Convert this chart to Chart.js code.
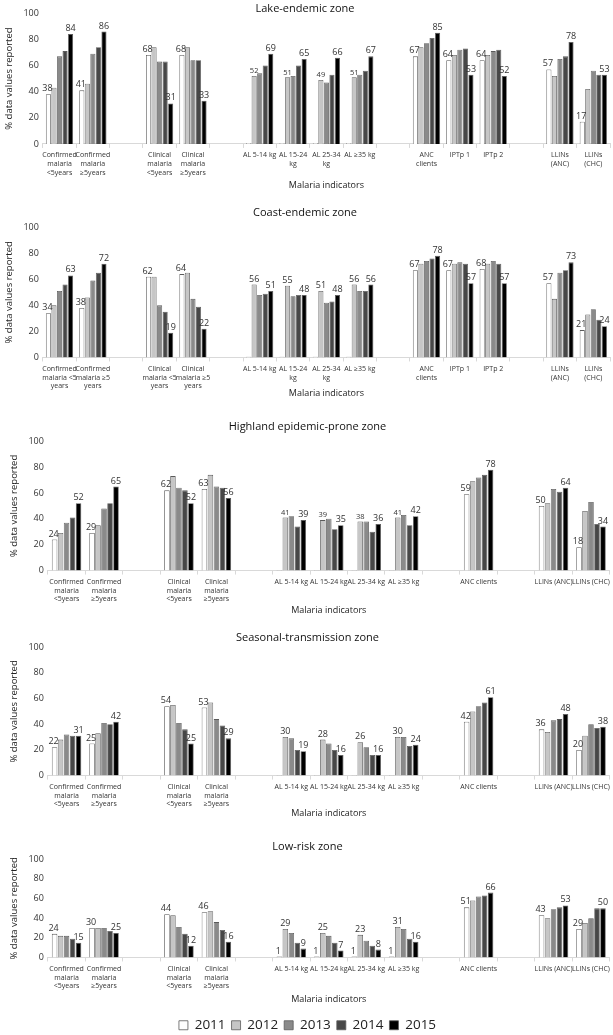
<!DOCTYPE html>
<html>
<head>
<meta charset="utf-8">
<script src="https://cdn.jsdelivr.net/npm/chart.js@4.4.0/dist/chart.umd.min.js"></script>
<style>
  body { margin: 0; background: #fff; width: 613px; height: 1035px; position: relative; overflow: hidden; }
  canvas { position: absolute; left: 0; }
</style>
</head>
<body>
<canvas id="c0"></canvas>
<canvas id="c1"></canvas>
<canvas id="c2"></canvas>
<canvas id="c3"></canvas>
<canvas id="c4"></canvas>
<script>
// years / legend
const years = ["2011", "2012", "2013", "2014", "2015"];

// indicator names (zones with IPTp data)
const catsIPTp = [
  ["Confirmed", "malaria", "<5years"], ["Confirmed", "malaria", "≥5years"],
  ["Clinical", "malaria", "<5years"], ["Clinical", "malaria", "≥5years"],
  "AL 5-14 kg", ["AL 15-24", "kg"], ["AL 25-34", "kg"], "AL ≥35 kg",
  ["ANC", "clients"], "IPTp 1", "IPTp 2", ["LLINs", "(ANC)"], ["LLINs", "(CHC)"]
];
const catsCoast = [
  ["Confirmed", "malaria <5", "years"], ["Confirmed", "malaria ≥5", "years"],
  ["Clinical", "malaria <5", "years"], ["Clinical", "malaria ≥5", "years"],
  "AL 5-14 kg", ["AL 15-24", "kg"], ["AL 25-34", "kg"], "AL ≥35 kg",
  ["ANC", "clients"], "IPTp 1", "IPTp 2", ["LLINs", "(ANC)"], ["LLINs", "(CHC)"]
];
const catsOther = [
  ["Confirmed", "malaria", "<5years"], ["Confirmed", "malaria", "≥5years"],
  ["Clinical", "malaria", "<5years"], ["Clinical", "malaria", "≥5years"],
  "AL 5-14 kg", "AL 15-24 kg", "AL 25-34 kg", "AL ≥35 kg",
  "ANC clients", "LLINs (ANC)", "LLINs (CHC)"
];
// how many indicators sit together before a gap
const groupsIPTp = [2, 2, 4, 3, 2];
const groupsOther = [2, 2, 4, 1, 2];

// Lake-endemic zone
const lake2011 = [38, 41, 68, 68, 0.5, 0.5, 0.5, 0.5, 67, 64, 64, 57, 17];
const lake2012 = [43, 46, 74, 74, 52, 51, 49, 51, 74, 68, 68, 52, 42];
const lake2013 = [67, 69, 63, 64, 54, 52, 47, 53, 77, 72, 71, 65, 56];
const lake2014 = [71, 74, 63, 64, 60, 60, 53, 56, 81, 73, 72, 67, 53];
const lake2015 = [84, 86, 31, 33, 69, 65, 66, 67, 85, 53, 52, 78, 53];

// Coast-endemic zone
const coast2011 = [34, 38, 62, 64, 0.5, 0.5, 0.5, 0.5, 67, 67, 68, 57, 21];
const coast2012 = [40, 46, 62, 65, 56, 55, 51, 56, 72, 72, 72, 45, 33];
const coast2013 = [51, 59, 40, 45, 48, 47, 42, 51, 74, 73, 74, 65, 37];
const coast2014 = [56, 65, 35, 39, 49, 48, 43, 51, 76, 72, 72, 67, 29];
const coast2015 = [63, 72, 19, 22, 51, 48, 48, 56, 78, 57, 57, 73, 24];

// Highland epidemic-prone zone
const high2011 = [24, 29, 62, 63, 0.5, 0.5, 0.5, 0.5, 59, 50, 18];
const high2012 = [29, 35, 73, 74, 41, 39, 38, 41, 69, 52, 46];
const high2013 = [37, 48, 64, 65, 42, 40, 38, 43, 72, 63, 53];
const high2014 = [41, 52, 62, 64, 34, 32, 30, 35, 74, 61, 36];
const high2015 = [52, 65, 52, 56, 39, 35, 36, 42, 78, 64, 34];

// Seasonal-transmission zone
const seas2011 = [22, 25, 54, 53, 0.5, 0.5, 0.5, 0.5, 42, 36, 20];
const seas2012 = [28, 33, 55, 57, 30, 28, 26, 30, 50, 34, 31];
const seas2013 = [32, 41, 41, 44, 29, 25, 22, 30, 54, 43, 40];
const seas2014 = [31, 40, 36, 39, 20, 20, 16, 23, 57, 44, 37];
const seas2015 = [31, 42, 25, 29, 19, 16, 16, 24, 61, 48, 38];

// Low-risk zone
const low2011 = [24, 30, 44, 46, 1, 1, 1, 1, 51, 43, 29];
const low2012 = [22, 30, 43, 47, 29, 25, 23, 31, 58, 40, 35];
const low2013 = [22, 30, 31, 36, 25, 22, 17, 29, 62, 49, 40];
const low2014 = [19, 27, 24, 28, 15, 15, 12, 19, 63, 51, 50];
const low2015 = [15, 25, 12, 16, 9, 7, 8, 16, 66, 53, 50];

const fills = ["#ffffff", "#c6c6c6", "#8a8a8a", "#474747", "#000000"];
const FONT = "'Open Sans', sans-serif";

// put an empty slot between indicator groups
function withGaps(arr, groups, blank) {
  const out = [];
  let i = 0;
  groups.forEach((n, g) => {
    if (g > 0) out.push(blank);
    for (let k = 0; k < n; k++) out.push(arr[i++]);
  });
  return out;
}

// numbers over the 2011 / 2015 bars (and 2012 for AL)
const valueLabels = {
  id: "valueLabels",
  afterDatasetsDraw(chart, args, opts) {
    const ctx = chart.ctx;
    const labels = chart.data.labels;
    ctx.save();
    ctx.textAlign = "center";
    ctx.textBaseline = "bottom";
    ctx.fillStyle = "#333";
    chart.data.datasets.forEach((ds, di) => {
      chart.getDatasetMeta(di).data.forEach((bar, i) => {
        const v = ds.data[i];
        if (v == null || v < 1) return;
        const isAL = [].concat(labels[i]).join(" ").startsWith("AL");
        if (!(di === 0 || di === 4 || (di === 1 && isAL))) return;
        const small = di === 1 && opts.smallMid;
        ctx.font = (small ? 7.5 : 9) + "px " + FONT;
        ctx.fillText(String(Math.round(v)), bar.x - (di === 0 ? 1 : 0), bar.y - 1);
      });
    });
    ctx.restore();
  }
};

const panels = [
  { id: "c0", title: "Lake-endemic zone", cats: catsIPTp, groups: groupsIPTp,
    series: [lake2011, lake2012, lake2013, lake2014, lake2015],
    top: 0, h: 191, tPadTop: 2, tPadBot: -2, xPadTop: 0, xPadBot: 0, padL: 0, catPct: 0.83, smallMid: true },
  { id: "c1", title: "Coast-endemic zone", cats: catsCoast, groups: groupsIPTp,
    series: [coast2011, coast2012, coast2013, coast2014, coast2015],
    top: 206, h: 193, tPadTop: 0, tPadBot: 8, xPadTop: -5.5, xPadBot: 0, padL: 0, catPct: 0.83, smallMid: false },
  { id: "c2", title: "Highland epidemic-prone zone", cats: catsOther, groups: groupsOther,
    series: [high2011, high2012, high2013, high2014, high2015],
    top: 420, h: 195.5, tPadTop: 0, tPadBot: 8, xPadTop: -1.6, xPadBot: 0, padL: 5, catPct: 0.8, smallMid: true },
  { id: "c3", title: "Seasonal-transmission zone", cats: catsOther, groups: groupsOther,
    series: [seas2011, seas2012, seas2013, seas2014, seas2015],
    top: 631, h: 188.4, tPadTop: 0, tPadBot: 3, xPadTop: -3.6, xPadBot: 0, padL: 5, catPct: 0.8, smallMid: false },
  { id: "c4", title: "Low-risk zone", cats: catsOther, groups: groupsOther,
    series: [low2011, low2012, low2013, low2014, low2015],
    top: 840, h: 202, tPadTop: 0, tPadBot: 6, xPadTop: 0, xPadBot: 8, padL: 5, catPct: 0.8, smallMid: false, legend: true }
];

panels.forEach(p => {
  const cv = document.getElementById(p.id);
  cv.width = 613;
  cv.height = Math.round(p.h);
  cv.style.top = p.top + "px";

  new Chart(cv, {
    type: "bar",
    data: {
      labels: withGaps(p.cats, p.groups, ""),
      datasets: years.map((y, k) => ({
        label: y,
        data: withGaps(p.series[k], p.groups, null),
        backgroundColor: fills[k],
        borderColor: "#5a5a5a",
        borderWidth: 0.8,
        barPercentage: 0.92,
        categoryPercentage: p.catPct
      }))
    },
    options: {
      responsive: false,
      animation: false,
      layout: { padding: { left: p.padL, right: 3, bottom: 0 } },
      plugins: {
        title: {
          display: true, text: p.title, color: "#111",
          font: { family: FONT, size: 11, weight: "normal" },
          padding: { top: p.tPadTop, bottom: p.tPadBot }
        },
        legend: {
          display: !!p.legend, position: "bottom",
          labels: { color: "#222", boxWidth: 9, boxHeight: 9, padding: 6,
                    font: { family: FONT, size: 13.5 } }
        },
        tooltip: { enabled: false },
        valueLabels: { smallMid: p.smallMid }
      },
      scales: {
        x: {
          grid: { display: true, drawOnChartArea: false, color: "#d9d9d9", tickLength: 4 },
          border: { color: "#d9d9d9" },
          ticks: { autoSkip: false, maxRotation: 0, minRotation: 0, color: "#333", padding: 3,
                   font: { family: FONT, size: 7, lineHeight: 1.25 } },
          title: { display: true, text: "Malaria indicators", color: "#222",
                   padding: { top: p.xPadTop, bottom: p.xPadBot }, font: { family: FONT, size: 9 } }
        },
        y: {
          min: 0, max: 100,
          grid: { display: false, drawTicks: false },
          border: { display: false },
          ticks: { stepSize: 20, color: "#333", padding: 4, font: { family: FONT, size: 9 } },
          title: { display: true, text: "% data values reported", color: "#222",
                   font: { family: FONT, size: 9.5 } }
        }
      }
    },
    plugins: [valueLabels]
  });
});
</script>
</body>
</html>
